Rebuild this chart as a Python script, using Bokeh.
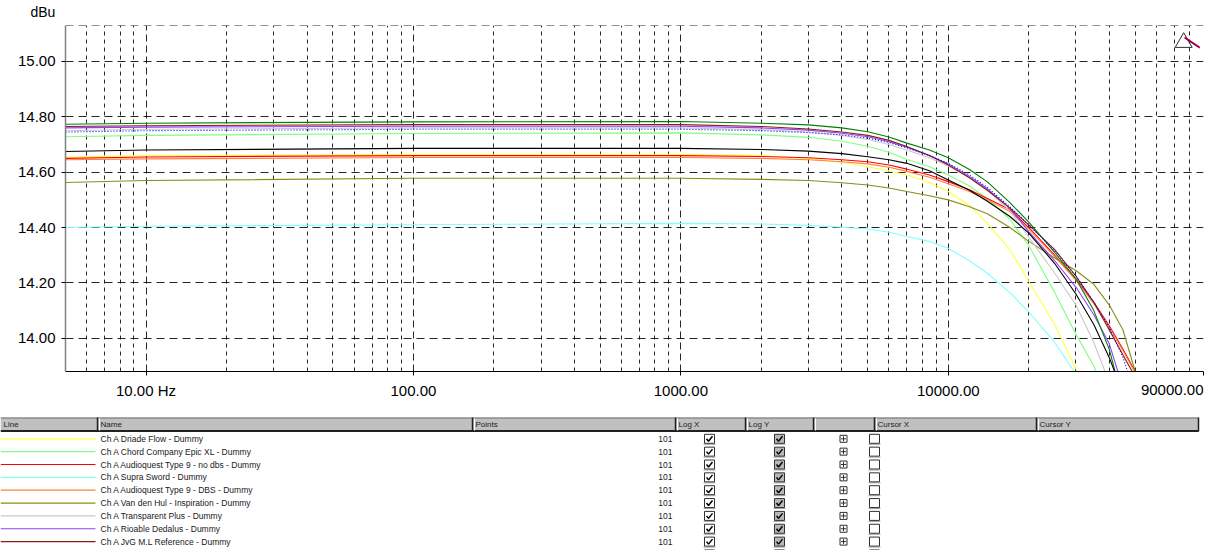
from bokeh.plotting import figure
from bokeh.models import FixedTicker, Grid, Range1d, Title, PrintfTickFormatter
from bokeh.layouts import column
from bokeh.embed import file_html
from bokeh.resources import INLINE
from bokeh.core.properties import value

# ---------------- data ----------------
freqs = [5, 10, 100, 1000, 2000, 3000, 4000, 5000, 6000, 7000, 8500, 10000,
         12000, 14000, 17000, 20000, 25000, 30000, 35000, 40000, 45000, 50000, 60000]

driade_flow = [14.655, 14.660, 14.665, 14.665, 14.660, 14.650, 14.636, 14.620, 14.605, 14.590, 14.563, 14.530,
               14.480, 14.415, 14.320, 14.205, 14.050, 13.890, 13.730, 13.570, 13.400, 13.250, 12.950]
chord_epic = [14.728, 14.733, 14.740, 14.742, 14.735, 14.726, 14.712, 14.694, 14.672, 14.646, 14.620, 14.590,
              14.550, 14.505, 14.430, 14.335, 14.165, 14.015, 13.900, 13.770, 13.600, 13.450, 13.150]
aq_nodbs = [14.650, 14.655, 14.660, 14.660, 14.657, 14.652, 14.645, 14.638, 14.626, 14.611, 14.590, 14.566,
            14.537, 14.505, 14.465, 14.400, 14.300, 14.215, 14.130, 14.045, 13.960, 13.880, 13.700]
supra_sword = [14.400, 14.405, 14.410, 14.415, 14.413, 14.408, 14.401, 14.395, 14.383, 14.368, 14.350, 14.325,
               14.280, 14.235, 14.165, 14.095, 13.985, 13.870, 13.750, 13.600, 13.450, 13.300, 13.000]
aq_dbs = [14.645, 14.648, 14.653, 14.653, 14.650, 14.645, 14.638, 14.630, 14.618, 14.603, 14.582, 14.558,
          14.530, 14.500, 14.458, 14.395, 14.295, 14.210, 14.125, 14.040, 13.955, 13.875, 13.690]
vdh_inspiration = [14.563, 14.570, 14.578, 14.578, 14.574, 14.570, 14.562, 14.554, 14.543, 14.530, 14.515, 14.500,
                   14.475, 14.450, 14.400, 14.350, 14.290, 14.245, 14.195, 14.120, 14.030, 13.880, 13.600]
transparent_plus = [14.750, 14.755, 14.760, 14.760, 14.754, 14.745, 14.733, 14.718, 14.700, 14.680, 14.652, 14.622,
                    14.580, 14.535, 14.460, 14.365, 14.235, 14.120, 13.985, 13.840, 13.700, 13.550, 13.250]
rioable_dedalus = [14.760, 14.763, 14.766, 14.766, 14.760, 14.752, 14.741, 14.728, 14.710, 14.690, 14.660, 14.630,
                   14.585, 14.540, 14.470, 14.385, 14.280, 14.185, 14.085, 13.980, 13.820, 13.700, 13.400]
jvg_reference = [14.765, 14.768, 14.772, 14.772, 14.765, 14.756, 14.745, 14.733, 14.715, 14.693, 14.660, 14.626,
                 14.580, 14.535, 14.470, 14.410, 14.320, 14.225, 14.130, 14.030, 13.940, 13.860, 13.650]
extra_green = [14.773, 14.777, 14.782, 14.783, 14.777, 14.771, 14.760, 14.746, 14.727, 14.705, 14.680, 14.652,
               14.610, 14.565, 14.490, 14.420, 14.310, 14.215, 14.100, 13.960, 13.770, 13.600, 13.300]
extra_blue = [14.745, 14.750, 14.755, 14.755, 14.750, 14.743, 14.735, 14.723, 14.707, 14.688, 14.660, 14.632,
              14.590, 14.545, 14.475, 14.410, 14.315, 14.225, 14.130, 14.040, 13.930, 13.800, 13.500]
extra_black = [14.675, 14.680, 14.686, 14.686, 14.682, 14.676, 14.667, 14.656, 14.645, 14.632, 14.605, 14.572,
               14.535, 14.495, 14.440, 14.380, 14.270, 14.160, 14.050, 13.930, 13.800, 13.650, 13.350]

series_names = ["Ch A Driade Flow - Dummy",
                "Ch A Chord Company  Epic XL - Dummy",
                "Ch A Audioquest Type 9 - no dbs - Dummy",
                "Ch A Supra Sword - Dummy",
                "Ch A Audioquest Type 9 - DBS - Dummy",
                "Ch A Van den Hul - Inspiration - Dummy",
                "Ch A Transparent Plus - Dummy",
                "Ch A Rioable Dedalus - Dummy",
                "Ch A JvG M.L Reference - Dummy",
                "", "", ""]
series_values = [driade_flow, chord_epic, aq_nodbs, supra_sword, aq_dbs, vdh_inspiration,
                 transparent_plus, rioable_dedalus, jvg_reference, extra_green, extra_blue, extra_black]
series_colors = ["#ffff40", "#80ff80", "#ff0000", "#80ffff", "#ff8040", "#8c8c1a",
                 "#c8c8c8", "#9040ff", "#8b1a1a", "#008000", "#0000ff", "#000000"]
series_dash = ["solid"] * 10 + ["1 2", "solid"]
series_points = 101

y_ticks = [14.0, 14.2, 14.4, 14.6, 14.8, 15.0]
x_ticks = [10, 100, 1000, 10000, 90000]
x_tick_labels = {10: "10.00 Hz", 100: "100.00", 1000: "1000.00", 10000: "10000.00", 90000: ""}
x_last_label = "90000.00"
y_unit = "dBu"

table_columns = ["Line", "Name", "Points", "Log X", "Log Y", "", "Cursor X", "Cursor Y"]

# ---------------- chart ----------------
FONT = "Liberation Sans"
x_lo, x_hi = 5, 90000
y_lo, y_hi = 13.88, 15.13

p = figure(width=1221, height=408, x_axis_type="log",
           x_range=Range1d(x_lo, x_hi), y_range=Range1d(y_lo, y_hi),
           output_backend="svg", toolbar_location=None,
           min_border_left=65, min_border_right=18, min_border_top=25, min_border_bottom=37)
p.frame_align = False
p.outline_line_color = None
p.background_fill_color = "white"
p.border_fill_color = "white"
p.grid.visible = False

# grids
minor_x = []
major_x = []
d = 1
while d <= 10000:
    for m in range(1, 10):
        f = m * d
        if f <= x_lo or f >= x_hi:
            continue
        (major_x if m == 1 else minor_x).append(f)
    d *= 10
major_x.append(x_hi)

p.add_layout(Grid(dimension=0, ticker=FixedTicker(ticks=minor_x), grid_line_color="black",
                  grid_line_alpha=0.85, grid_line_dash="4 4", grid_line_width=1))
p.add_layout(Grid(dimension=0, ticker=FixedTicker(ticks=major_x), grid_line_color="black",
                  grid_line_alpha=0.85, grid_line_dash="7 4", grid_line_width=1))
p.add_layout(Grid(dimension=1, ticker=FixedTicker(ticks=y_ticks + [y_hi - 0.001]), grid_line_color="black",
                  grid_line_alpha=0.85, grid_line_dash="8 5", grid_line_width=1))

# axes
p.yaxis.ticker = FixedTicker(ticks=y_ticks)
p.yaxis.formatter = PrintfTickFormatter(format="%.2f")
p.yaxis.axis_line_color = "#808080"
p.yaxis.axis_line_width = 1.5
p.yaxis.major_tick_in = 0
p.yaxis.major_tick_out = 4
p.yaxis.major_tick_line_color = "black"
p.yaxis.minor_tick_line_color = None
p.yaxis.major_label_text_font = FONT
p.yaxis.major_label_text_font_size = "15px"
p.yaxis.major_label_text_color = "black"
p.yaxis.major_label_standoff = 6

p.xaxis.ticker = FixedTicker(ticks=x_ticks)
p.xaxis.major_label_overrides = x_tick_labels
p.xaxis.axis_line_color = "black"
p.xaxis.major_tick_in = 0
p.xaxis.major_tick_out = 4
p.xaxis.major_tick_line_color = "black"
p.xaxis.minor_tick_line_color = None
p.xaxis.major_label_text_font = FONT
p.xaxis.major_label_text_font_size = "15px"
p.xaxis.major_label_text_color = "black"
p.xaxis.major_label_standoff = 6

# last x label, right-aligned on the last tick, in the same row as the other tick labels
p.add_layout(Title(text=x_last_label, align="right", offset=0, vertical_align="top", standoff=-34,
                   text_font=FONT, text_font_size="15px", text_font_style="normal",
                   text_color="black"), "below")
# unit label at the top left
p.add_layout(Title(text=y_unit, align="left", offset=-35, vertical_align="top", standoff=7,
                   text_font=FONT, text_font_size="14px", text_font_style="normal",
                   text_color="black"), "above")

# curves
for vals, col, dash in zip(series_values, series_colors, series_dash):
    p.line(freqs, vals, line_color=col, line_width=1.1, line_dash=dash)

# small marker icon in the top-right corner
def fx(px):
    return 10 ** (1 + (px - 145) / 267.0)

def fy(py):
    return 15.0 - (py - 61) / 277.0

p.scatter([fx(1181)], [fy(42)], marker="triangle", size=17, fill_color=None,
          line_color="#303030", line_width=1)
p.segment(x0=[fx(1182)], y0=[fy(37)], x1=[fx(1197)], y1=[fy(47)], line_color="#ff0000", line_width=2)
p.segment(x0=[fx(1182)], y0=[fy(37.5)], x1=[fx(1197)], y1=[fy(47.5)], line_color="#0000ff", line_width=0.8)

# ---------------- table ----------------
t = figure(width=1221, height=142, x_range=Range1d(0, 1221), y_range=Range1d(550, 408),
           output_backend="svg", toolbar_location=None, min_border=0,
           x_axis_location=None, y_axis_location=None)
t.frame_align = False
t.outline_line_color = None
t.grid.visible = False
t.background_fill_color = "white"
t.border_fill_color = "white"

col_edges = [0, 97, 472, 675, 745, 813, 874, 1036, 1198]
hdr_top, hdr_bot = 417, 431
n_sep = len(col_edges) - 1
t.quad(left=[col_edges[0]], right=[col_edges[-1]], top=[hdr_top], bottom=[hdr_bot],
       fill_color="#c0c0c0", line_color=None)
t.segment(x0=[col_edges[0]], y0=[hdr_top + 0.5], x1=[col_edges[-1]], y1=[hdr_top + 0.5],
          line_color="#707070", line_width=1)
t.segment(x0=[col_edges[0]], y0=[hdr_bot - 0.5], x1=[col_edges[-1]], y1=[hdr_bot - 0.5],
          line_color="#202020", line_width=2)
t.segment(x0=col_edges[1:], y0=[hdr_top] * n_sep, x1=col_edges[1:], y1=[hdr_bot] * n_sep,
          line_color="#202020", line_width=1.5)
t.segment(x0=[e + 2 for e in col_edges[1:-1]], y0=[hdr_top + 1] * (n_sep - 1),
          x1=[e + 2 for e in col_edges[1:-1]], y1=[hdr_bot - 1] * (n_sep - 1),
          line_color="white", line_width=1)
hdr = [(e + 3, c) for e, c in zip(col_edges[:-1], table_columns) if c]
t.text(x=[h[0] for h in hdr], y=[(hdr_top + hdr_bot) / 2] * len(hdr),
       text=[h[1] for h in hdr], text_font=value(FONT), text_font_size="8px",
       text_baseline="middle", text_align="left", text_color="#202020")

row0, row_h = 438.3, 12.85
rows_y = [row0 + row_h * i for i in range(len(series_names))]

t.segment(x0=[0] * len(rows_y), y0=rows_y, x1=[95] * len(rows_y), y1=rows_y,
          line_color=series_colors, line_width=1.2)
named = [y for y, n in zip(rows_y, series_names) if n]
t.text(x=[100] * len(named), y=named, text=[n for n in series_names if n],
       text_font=value(FONT), text_font_size="8.5px", text_baseline="middle",
       text_align="left", text_color="#202020")
t.text(x=[672] * len(named), y=named, text=[str(series_points)] * len(named),
       text_font=value(FONT), text_font_size="8.5px", text_baseline="middle",
       text_align="right", text_color="#202020")

def boxes(cx, fill, checked):
    t.segment(x0=[cx - 6] * len(rows_y), y0=[y + 5.5 for y in rows_y],
              x1=[cx + 6] * len(rows_y), y1=[y + 5.5 for y in rows_y],
              line_color="#a0a0a0", line_width=1)
    t.rect(x=[cx] * len(rows_y), y=rows_y, width=10, height=9,
           fill_color=fill, line_color="#303030", line_width=1)
    if checked:
        t.multi_line(xs=[[cx - 3, cx - 1, cx + 3] for _ in rows_y],
                     ys=[[y, y + 2.5, y - 2.5] for y in rows_y],
                     line_color="#000000", line_width=1.5)

boxes(709, "white", True)
boxes(779, "#b8b8b8", True)
boxes(874, "white", False)
# small "expand" box icon
t.rect(x=[843] * len(rows_y), y=rows_y, width=7, height=7, fill_color="white",
       line_color="#303030", line_width=1)
t.segment(x0=[840.5] * len(rows_y), y0=rows_y, x1=[845.5] * len(rows_y), y1=rows_y,
          line_color="#303030", line_width=1)
t.segment(x0=[843] * len(rows_y), y0=[y - 2.5 for y in rows_y], x1=[843] * len(rows_y),
          y1=[y + 2.5 for y in rows_y], line_color="#303030", line_width=1)

layout = column(p, t, spacing=0)
open("out.html", "w").write(file_html(layout, INLINE))
